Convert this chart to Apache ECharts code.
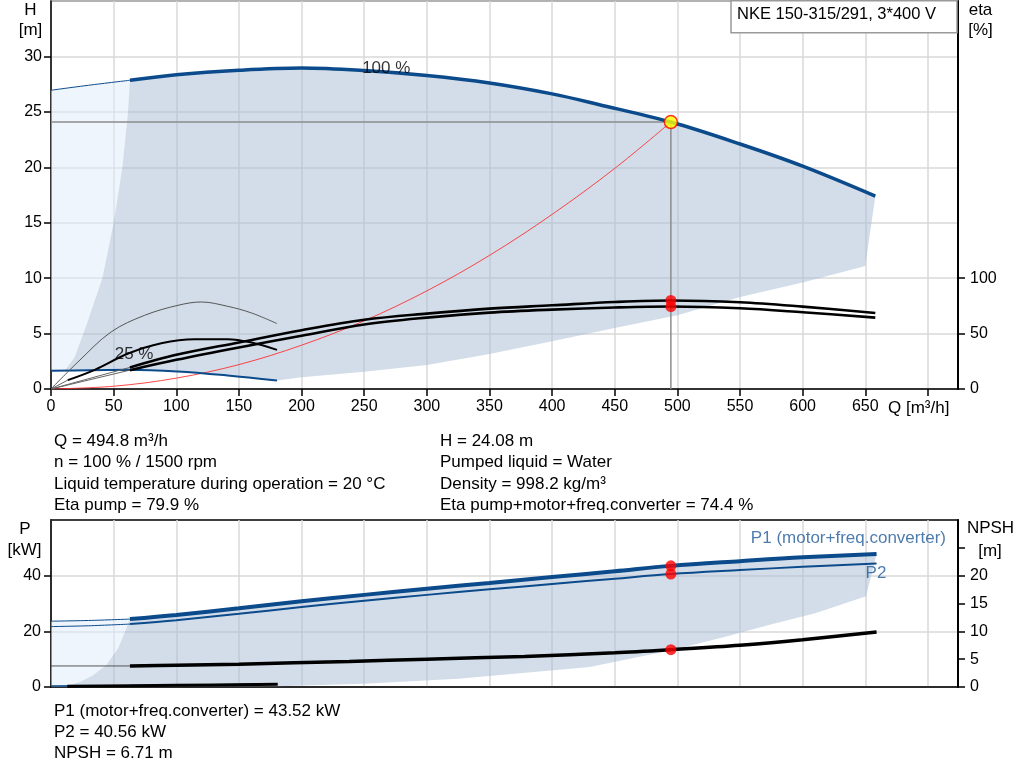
<!DOCTYPE html>
<html><head><meta charset="utf-8">
<script src="https://cdn.jsdelivr.net/npm/echarts@6/dist/echarts.min.js"></script>
<style>html,body{margin:0;padding:0;background:#fff}#c{width:1024px;height:781px}</style>
</head><body><div id="c"></div>
<script>
// ---------- tick values ----------
const qTickValues = [0,50,100,150,200,250,300,350,400,450,500,550,600,650,700];
const qLabelValues = [0,50,100,150,200,250,300,350,400,450,500,550,600,650];
const hLabelValues = [0,5,10,15,20,25,30];
const etaLabelValues = [0,50,100];
const pLabelValues = [0,20,40];
const npshLabelValues = [0,5,10,15,20];
const npshTickValues = [0,5,10,15,20,25];

// ---------- duty point ----------
const opQ = 494.8, opH = 24.08, opEtaPump = 79.9, opEtaTotal = 74.4;
const opP1 = 43.52, opP2 = 40.56, opNPSH = 6.71;

// ---------- H curve, 100 % speed ----------
const h100Q = [63, 100, 150, 200, 250, 300, 350, 400, 437, 494.8, 550, 600, 658];
const h100H = [27.85, 28.35, 28.75, 28.95, 28.72, 28.27, 27.6, 26.62, 25.67, 24.08, 22.1, 20.1, 17.4];
const h100ExtQ = [0, 30, 63];
const h100ExtH = [26.95, 27.4, 27.85];

// ---------- H curve, 25 % speed ----------
const h25Q = [0, 30, 61.6, 101, 141, 180.4];
const h25H = [1.64, 1.70, 1.73, 1.58, 1.22, 0.77];

// ---------- system curve ----------
const sysQ = [0, 50, 100, 150, 200, 250, 300, 350, 400, 450, 494.8];
const sysH = [0, 0.25, 0.98, 2.2, 3.95, 6.15, 8.85, 12.05, 15.75, 19.9, 24.08];

// ---------- efficiency curves (eta %) ----------
const etaQ = [63, 100, 150, 200, 250, 300, 350, 400, 450, 494.8, 550, 600, 658];
const etaPump = [19.5, 30.8, 42, 53, 62.4, 68, 72.5, 75.5, 78.5, 79.9, 78.3, 74.3, 68.6];
const etaTotal = [17, 26.3, 37.5, 48, 58.2, 64.4, 68.9, 71.6, 73.5, 74.4, 72.8, 69.2, 64.4];
const etaPumpExtQ = [0, 63], etaPumpExt = [0, 19.5];
const etaTotalExtQ = [0, 63], etaTotalExt = [0, 17];
const eta25PumpQ = [0, 21.6, 48, 74.8, 101.4, 120, 141, 160, 180.4];
const eta25Pump = [0, 24.5, 51.5, 66.5, 75.5, 78.5, 74.6, 68.6, 59];
const eta25TotalQ = [13.4, 34.9, 61.6, 88, 114.7, 141, 160, 180.4];
const eta25Total = [8, 17.3, 32, 41.3, 44.9, 44.9, 41.9, 35.3];
const eta25TotalExtQ = [0, 13.4], eta25TotalExt = [0, 8];

// ---------- operating range (H chart) ----------
const hLeftEdgeQ = [63, 61.5, 57, 50, 41, 29, 19, 11];
const hLeftEdgeH = [27.85, 25, 20, 15, 10, 6, 2.9, 1.65];
const hLowQ = [180.4, 200, 250, 300, 350, 400, 450, 500, 550, 600, 650];
const hLowH = [0.77, 1.06, 1.56, 2.16, 3.15, 4.3, 5.5, 6.65, 8.3, 9.6, 11.1];

// ---------- power and NPSH ----------
const p1Q = [63, 100, 150, 200, 250, 300, 350, 400, 450, 494.8, 550, 600, 659];
const p1 = [24.4, 25.9, 28.3, 30.8, 33.1, 35.3, 37.4, 39.5, 41.6, 43.52, 45.2, 46.6, 47.8];
const p2Q = [63, 100, 150, 200, 250, 300, 350, 400, 450, 494.8, 550, 600, 659];
const p2 = [22.6, 24.0, 26.3, 28.7, 31.0, 33.1, 35.1, 37.0, 38.9, 40.56, 42.0, 43.2, 44.4];
const p1ExtQ = [0, 30, 63], p1Ext = [23.65, 23.9, 24.4];
const p2ExtQ = [0, 30, 63], p2Ext = [21.7, 22.0, 22.6];
const npshQ = [63, 100, 150, 238, 300, 378, 450, 494.8, 550, 600, 659];
const npsh = [3.78, 3.9, 4.1, 4.6, 5.0, 5.5, 6.15, 6.71, 7.5, 8.5, 9.9];
const npshExtQ = [0, 63], npshExt = [3.78, 3.78];
const p25Q = [0, 63, 180];
const p25 = [0.36, 0.5, 1.1];
const npsh25Q = [13, 100, 181];
const npsh25 = [0.13, 0.3, 0.48];

// ---------- operating range (P chart) ----------
const pLeftEdgeQ = [63, 61, 59, 53.5, 44, 33, 23, 12, 5];
const pLeftEdgeP = [24.4, 22, 19.8, 13.8, 7.8, 4, 1.8, 0.3, 0];
const pLowQ = [181, 250, 325, 430, 495, 536, 576, 610, 650.6];
const pLowP = [0.3, 1.2, 3.0, 7.2, 13.2, 17.8, 22.6, 26.5, 32.6];

// ---------- texts ----------
const infoLeft = ['Q = 494.8 m³/h', 'n = 100 % / 1500 rpm', 'Liquid temperature during operation = 20 °C', 'Eta pump = 79.9 %'];
const infoRight = ['H = 24.08 m', 'Pumped liquid = Water', 'Density = 998.2 kg/m³', 'Eta pump+motor+freq.converter = 74.4 %'];
const infoBottom = ['P1 (motor+freq.converter) = 43.52 kW', 'P2 = 40.56 kW', 'NPSH = 6.71 m'];
const titleText = 'NKE 150-315/291, 3*400 V';

// ---------- helpers ----------
const FONT = '"Liberation Sans", Arial, sans-serif';
const BLUE = '#0b4a8b';
const zip = (a, b) => a.map((x, i) => [x, b[i]]);
const rev = a => a.slice().reverse();

function line(q, v, color, width, xi, yi, z, smooth) {
  return {type: 'line', xAxisIndex: xi, yAxisIndex: yi, data: zip(q, v),
    showSymbol: false, symbol: 'none', smooth: smooth === undefined ? 0.35 : smooth,
    lineStyle: {color: color, width: width, cap: 'butt'}, z: z || 3, silent: true};
}
function poly(points, fill, xi, yi, z) {
  return {type: 'custom', xAxisIndex: xi, yAxisIndex: yi, z: z || 1, silent: true,
    data: [points[0]],
    renderItem: function (params, api) {
      return {type: 'polygon', shape: {points: points.map(p => api.coord(p))}, style: {fill: fill}};
    }};
}
function lbl(xi, yi, q, v, text, color, align) {
  return {type: 'scatter', xAxisIndex: xi, yAxisIndex: yi, symbolSize: 0, z: 6, silent: true,
    data: [[q, v]],
    label: {show: true, position: [0, 0], formatter: text, color: color, fontSize: 17, fontFamily: FONT,
      align: align || 'center', verticalAlign: 'middle'}};
}

// polygons
const hDark = [].concat(
  zip(h100Q, h100H),
  rev(zip(hLowQ, hLowH)),
  rev(zip(h25Q, h25H)).filter(p => p[0] < 180 && p[0] > 11),
  rev(zip(hLeftEdgeQ, hLeftEdgeH))
);
const hLight = [].concat(zip(h100ExtQ, h100ExtH), zip(hLeftEdgeQ, hLeftEdgeH).slice(1), [[h25Q[0], h25H[0]]]);
const pDark = [].concat(
  zip(p1Q, p1),
  rev(zip(pLowQ, pLowP)),
  rev(zip(pLeftEdgeQ, pLeftEdgeP))
);
const pLight = [].concat(zip(p1ExtQ, p1Ext), zip(pLeftEdgeQ, pLeftEdgeP).slice(1), [[0, 0]]);

const DARK_FILL = 'rgba(165,188,211,0.5)';
const LIGHT_FILL = 'rgba(221,236,250,0.5)';

const axisLineBlack = {show: true, onZero: false, lineStyle: {color: '#000', width: 1.5}};
const tickStyle = {color: '#000', width: 1.5};
const labelStyle = {fontSize: 16, color: '#000', fontFamily: FONT};
const gridLine = {show: true, lineStyle: {color: '#d9d9d9', width: 1.5}};

const option = {
  animation: false,
  backgroundColor: '#fff',
  grid: [
    {left: 51, right: 66, top: 1, height: 388, show: true, borderColor: '#999', borderWidth: 1.5, backgroundColor: 'transparent'},
    {left: 51, right: 66, top: 520, height: 167, show: true, borderColor: '#000', borderWidth: 1.5, backgroundColor: 'transparent'}
  ],
  xAxis: [
    {type: 'value', gridIndex: 0, min: 0, max: 724, interval: 50, axisLine: axisLineBlack,
      axisTick: {show: true, length: 7, lineStyle: tickStyle, customValues: qTickValues},
      axisLabel: Object.assign({customValues: qLabelValues, margin: 10}, labelStyle),
      splitLine: gridLine},
    {type: 'value', gridIndex: 1, min: 0, max: 724, interval: 50, axisLine: axisLineBlack,
      axisTick: {show: false}, axisLabel: {show: false}, splitLine: gridLine}
  ],
  yAxis: [
    {type: 'value', gridIndex: 0, position: 'left', min: 0, max: 35, interval: 5, axisLine: axisLineBlack,
      axisTick: {show: true, length: 7, lineStyle: tickStyle, customValues: hLabelValues},
      axisLabel: Object.assign({customValues: hLabelValues, margin: 9}, labelStyle),
      splitLine: gridLine},
    {type: 'value', gridIndex: 0, position: 'right', min: 0, max: 350, interval: 50,
      axisLine: {show: true, onZero: false, lineStyle: {color: '#000', width: 2}},
      axisTick: {show: true, length: 7, lineStyle: tickStyle, customValues: etaLabelValues},
      axisLabel: Object.assign({customValues: etaLabelValues, margin: 12}, labelStyle),
      splitLine: {show: false}},
    {type: 'value', gridIndex: 1, position: 'left', min: 0, max: 60, interval: 20, axisLine: axisLineBlack,
      axisTick: {show: true, length: 7, lineStyle: tickStyle, customValues: pLabelValues},
      axisLabel: Object.assign({customValues: pLabelValues, margin: 10}, labelStyle),
      splitLine: gridLine},
    {type: 'value', gridIndex: 1, position: 'right', min: 0, max: 30, interval: 5,
      axisLine: {show: true, onZero: false, lineStyle: {color: '#000', width: 2}},
      axisTick: {show: true, length: 7, lineStyle: tickStyle, customValues: npshTickValues},
      axisLabel: Object.assign({customValues: npshLabelValues, margin: 12}, labelStyle),
      splitLine: {show: false}}
  ],
  series: [
    // H chart areas
    poly(hLight, LIGHT_FILL, 0, 0, 1),
    poly(hDark, DARK_FILL, 0, 0, 1),
    // duty point guide lines
    line([0, opQ, opQ], [opH, opH, 0], '#8c8c8c', 1.5, 0, 0, 2, false),
    // system curve
    line(sysQ, sysH, 'rgba(255,40,40,0.85)', 1, 0, 0, 3),
    // H curves
    line(h100ExtQ, h100ExtH, BLUE, 1, 0, 0, 3),
    line(h100Q, h100H, BLUE, 3.5, 0, 0, 4),
    line(h25Q, h25H, BLUE, 2, 0, 0, 3),
    // efficiency curves
    line(etaPumpExtQ, etaPumpExt, '#666', 1, 0, 1, 3, false),
    line(etaTotalExtQ, etaTotalExt, '#666', 1, 0, 1, 3, false),
    line(eta25TotalExtQ, eta25TotalExt, '#666', 1, 0, 1, 3, false),
    line(eta25PumpQ, eta25Pump, '#555', 1, 0, 1, 3),
    line(eta25TotalQ, eta25Total, '#000', 2, 0, 1, 3),
    line(etaQ, etaPump, '#000', 2.6, 0, 1, 4),
    line(etaQ, etaTotal, '#000', 2.6, 0, 1, 4),
    // duty point markers
    {type: 'scatter', xAxisIndex: 0, yAxisIndex: 1, symbolSize: 11, z: 7, silent: true,
      itemStyle: {color: '#ff0000'}, data: [[opQ, opEtaPump], [opQ, opEtaTotal]]},
    {type: 'scatter', xAxisIndex: 0, yAxisIndex: 0, symbolSize: 13, z: 8, silent: true,
      itemStyle: {color: '#ffff00', borderColor: '#ff0000', borderWidth: 1.5}, data: [[opQ, opH]]},
    lbl(0, 0, 267.6, 28.93, '100 %', '#000'),
    lbl(0, 0, 66.3, 3.11, '25 %', '#000'),

    // P chart areas
    poly(pLight, LIGHT_FILL, 1, 2, 1),
    poly(pDark, DARK_FILL, 1, 2, 1),
    line(p1ExtQ, p1Ext, BLUE, 1, 1, 2, 3),
    line(p2ExtQ, p2Ext, BLUE, 1, 1, 2, 3),
    line(p1Q, p1, BLUE, 4, 1, 2, 4),
    line(p2Q, p2, BLUE, 2, 1, 2, 4),
    line(npshExtQ, npshExt, '#555', 1, 1, 3, 3, false),
    line(npshQ, npsh, '#000', 3.5, 1, 3, 4),
    line(p25Q, p25, BLUE, 1.5, 1, 2, 3),
    line(npsh25Q, npsh25, '#000', 3, 1, 3, 4),
    {type: 'scatter', xAxisIndex: 1, yAxisIndex: 2, symbolSize: 11, z: 7, silent: true,
      itemStyle: {color: '#ff0000'}, data: [[opQ, opP1], [opQ, opP2]]},
    {type: 'scatter', xAxisIndex: 1, yAxisIndex: 3, symbolSize: 11, z: 7, silent: true,
      itemStyle: {color: '#ff0000'}, data: [[opQ, opNPSH]]},
    lbl(1, 2, 714.4, 53.5, 'P1 (motor+freq.converter)', '#1f5a98', 'right'),
    lbl(1, 2, 658.5, 41.0, 'P2', '#1f5a98')
  ],
  graphic: []
};

function txt(x, y, text, size, align, color) {
  return {type: 'text', x: x, y: y, z: 100, silent: true,
    style: {text: text, font: size + 'px ' + FONT, fill: color || '#000', textAlign: align || 'left', textVerticalAlign: 'middle'}};
}
const g = option.graphic;
g.push({type: 'rect', z: 90, silent: true, shape: {x: 731, y: 0.75, width: 226, height: 32},
  style: {fill: '#fff', stroke: '#9a9a9a', lineWidth: 1.5}});
g.push(txt(737, 14, titleText, 16.5, 'left'));
g.push(txt(30.5, 10, 'H', 17, 'center'));
g.push(txt(30.5, 30, '[m]', 17, 'center'));
g.push(txt(980.5, 10, 'eta', 17, 'center'));
g.push(txt(980.5, 30, '[%]', 17, 'center'));
g.push(txt(888, 408, 'Q [m³/h]', 17, 'left'));
g.push(txt(25, 529, 'P', 17, 'center'));
g.push(txt(24.5, 550, '[kW]', 17, 'center'));
g.push(txt(990.5, 528.5, 'NPSH', 17, 'center'));
g.push(txt(990, 551, '[m]', 17, 'center'));
const infoY = [441, 462, 484, 505];
infoLeft.forEach((t, i) => g.push(txt(54, infoY[i], t, 17, 'left')));
infoRight.forEach((t, i) => g.push(txt(440, infoY[i], t, 17, 'left')));
const bottomY = [711, 732, 753];
infoBottom.forEach((t, i) => g.push(txt(54, bottomY[i], t, 17, 'left')));

const chart = echarts.init(document.getElementById('c'), null, {renderer: 'canvas'});
chart.setOption(option);
</script>
</body></html>
